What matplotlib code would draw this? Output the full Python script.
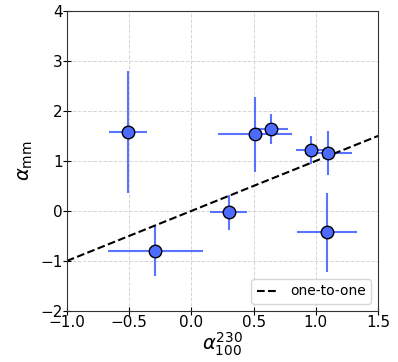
import numpy as np
import matplotlib.pyplot as plt

# measured points
alpha_230_100 = [-0.51, 0.51, 0.64, 0.96, 1.10, 0.30, -0.29, 1.09]
alpha_230_100_err = [0.15, 0.30, 0.135, 0.12, 0.19, 0.15, 0.38, 0.24]
alpha_mm = [1.57, 1.53, 1.63, 1.21, 1.15, -0.03, -0.80, -0.43]
alpha_mm_err = [1.22, 0.75, 0.30, 0.28, 0.44, 0.35, 0.50, 0.79]

one_to_one = [-1.0, 1.5]

fig = plt.figure(figsize=(3.98, 3.62), dpi=100)
ax = fig.add_axes([0.168, 0.141, 0.782, 0.829])

ax.errorbar(alpha_230_100, alpha_mm, xerr=alpha_230_100_err, yerr=alpha_mm_err,
            fmt='none', ecolor='#3d5cff', elinewidth=1.5, alpha=0.85, zorder=2)
ax.plot(alpha_230_100, alpha_mm, 'o', ms=9, mfc='#4d6bff', mec='k', mew=1.0, zorder=3)
ax.plot(one_to_one, one_to_one, 'k--', lw=1.5, label='one-to-one', zorder=2.5)

ax.set_xlim(-1.0, 1.5)
ax.set_ylim(-2, 4)
ax.set_xticks([-1.0, -0.5, 0.0, 0.5, 1.0, 1.5])
ax.set_yticks([-2, -1, 0, 1, 2, 3, 4])
ax.grid(True, ls='--', color='#d5d5d5', lw=0.7)
ax.tick_params(direction='inout', labelsize=11, length=6, pad=0)
for s in ax.spines.values():
    s.set_color('#333333')

ax.set_xlabel(r'$\alpha_{100}^{230}$', fontsize=14, labelpad=0)
ax.set_ylabel(r'$\alpha_{\rm mm}$', fontsize=14, labelpad=4)
ax.legend(loc='lower right', fontsize=10, handlelength=1.6, borderpad=0.4)

fig.savefig('out.png', dpi=100)
